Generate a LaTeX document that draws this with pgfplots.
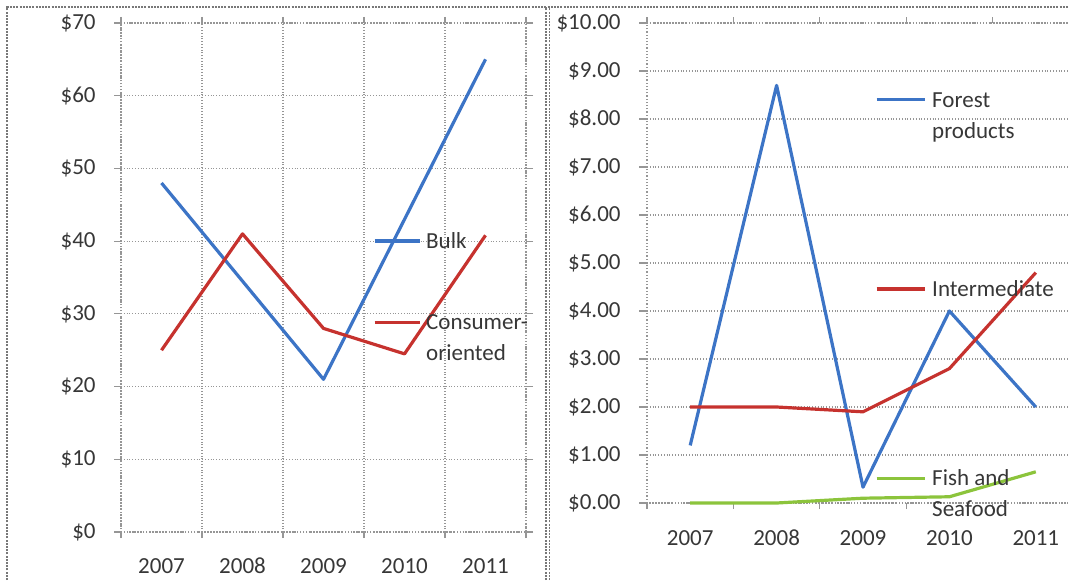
\documentclass[border=0pt]{standalone}
\usepackage{pgfplots}
\pgfplotsset{compat=1.18}
\usepackage{fontspec}
\setmainfont{Carlito}

\definecolor{serblue}{RGB}{60,116,198}
\definecolor{serred}{RGB}{198,50,46}
\definecolor{sergreen}{RGB}{140,196,60}
\definecolor{gridgray}{RGB}{150,150,150}
\definecolor{framegray}{RGB}{120,120,120}
\definecolor{labelgray}{RGB}{55,55,55}

% legend text: two lines, baseline on the first one (like Excel)
\newcommand{\twoline}[2]{\vtop{\hbox{\strut #1}\hbox{\strut #2}}}

% one look for both Excel-like panels
\pgfplotsset{
  excelpanel/.style={
    scale only axis,
    xmin=0.5, xmax=5.5,
    xtick={1,...,5},
    xticklabels={2007,2008,2009,2010,2011},
    minor xtick={0.5,1.5,...,5.5},
    tick align=outside,
    major tick length=3.5pt,
    minor tick length=3pt,
    major x tick style={draw=none},
    tick style={gridgray, line width=0.6pt},
    axis line style={gridgray, densely dotted, line width=0.6pt},
    grid style={gridgray, densely dotted, line width=0.6pt},
    ymajorgrids=true,
    tick label style={text=labelgray},
    yticklabel style={anchor=east, inner sep=0pt},
    xticklabel style={anchor=base, inner sep=0pt},
    clip=false,
    legend image code/.code={\draw[#1] (0pt,3.6pt) -- (22.5pt,3.6pt);},
    legend cell align=left,
    legend style={draw=none, fill=none, inner sep=0pt, outer sep=0pt,
      column sep=2.5pt,
      cells={anchor=base west},
      nodes={inner sep=0pt, text=labelgray}},
  },
  serline/.style={line width=1.6pt, line join=round},
}

\begin{document}
\fontsize{11.5}{15.5}\selectfont
\begin{tikzpicture}
\useasboundingbox (0,0) rectangle (534pt,290pt);
\clip (0,0) rectangle (534pt,290pt);

% left panel: bulk and consumer-oriented
\begin{axis}[
    excelpanel,
    at={(60.5pt,24pt)}, anchor=south west,
    width=202.5pt, height=254.5pt,
    ymin=0, ymax=70,
    ytick={0,10,...,70},
    yticklabels={\$0,\$10,\$20,\$30,\$40,\$50,\$60,\$70},
    yticklabel shift=9pt,
    xticklabel shift=17pt,
    xminorgrids=true,
    legend style={at={(axis cs:3.611,40)}, anchor=north west, yshift=7.3pt, row sep=28pt},
]
\addplot[serline, serblue] coordinates {(1,48)(2,34.5)(3,21)(4,43)(5,65)};
\addlegendentry{\strut Bulk}
\addplot[serline, serred] coordinates {(1,25)(2,41)(3,28)(4,24.5)(5,40.8)};
\addlegendentry{\twoline{Consumer-}{oriented}}
\end{axis}

% right panel: forest, intermediate, fish
\begin{axis}[
    excelpanel,
    at={(323.5pt,38.5pt)}, anchor=south west,
    width=216pt, height=240pt,
    ymin=0, ymax=10,
    ytick={0,1,...,10},
    yticklabels={\$0.00,\$1.00,\$2.00,\$3.00,\$4.00,\$5.00,\$6.00,\$7.00,\$8.00,\$9.00,\$10.00},
    major tick length=4pt,
    yticklabel shift=9pt,
    xticklabel shift=17pt,
    legend image code/.code={\draw[#1] (0pt,3.6pt) -- (24pt,3.6pt);},
    legend style={at={(axis cs:3.139,8.396)}, anchor=north west, yshift=7.3pt,
      row sep=82pt, column sep=3pt},
]
\addplot[serline, serblue] coordinates {(1,1.2)(2,8.7)(3,0.33)(4,4.0)(5,2.0)};
\addlegendentry{\twoline{Forest}{products}}
\addplot[serline, serred] coordinates {(1,2.0)(2,2.0)(3,1.9)(4,2.8)(5,4.8)};
\addlegendentry{\twoline{Intermediate}{}}
\addplot[serline, sergreen] coordinates {(1,0.0)(2,0.0)(3,0.1)(4,0.13)(5,0.65)};
\addlegendentry{\twoline{Fish and}{Seafood}}
\end{axis}

% dashed chart frames
\begin{scope}[framegray, line width=0.7pt, dash pattern=on 1pt off 0.6pt]
\draw (3.5pt,0) -- (3.5pt,286.5pt) -- (534pt,286.5pt);
\draw (273pt,0) -- (273pt,286.5pt);
\draw (274.6pt,0) -- (274.6pt,286.5pt);
\end{scope}
\end{tikzpicture}
\end{document}
